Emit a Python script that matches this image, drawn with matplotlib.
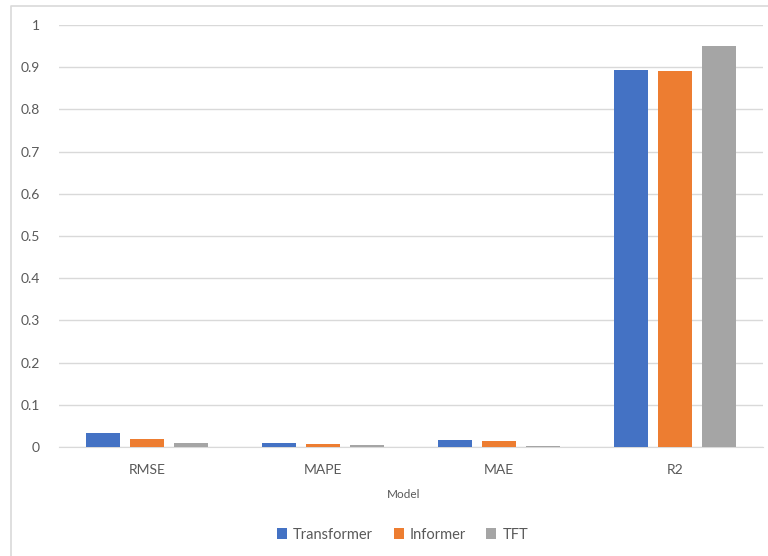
import numpy as np
import matplotlib.pyplot as plt
from matplotlib.lines import Line2D

metrics = ["RMSE", "MAPE", "MAE", "R2"]
models = ["Transformer", "Informer", "TFT"]
transformer = [0.032, 0.0095, 0.017, 0.893]
informer = [0.020, 0.008, 0.014, 0.891]
tft = [0.010, 0.005, 0.003, 0.950]
colors = ["#4472C4", "#ED7D31", "#A5A5A5"]
TEXT_COLOR = "#595959"
GRID_COLOR = "#D9D9D9"

plt.rcParams["font.family"] = ["Lato", "DejaVu Sans"]

fig = plt.figure(figsize=(7.68, 5.56), dpi=100)
ax = fig.add_axes([59 / 768, 109 / 556, 704 / 768, 422 / 556])

x = np.arange(len(metrics))
width = 0.19
step = 0.25
for i, (vals, name) in enumerate(zip([transformer, informer, tft], models)):
    ax.bar(x + (i - 1) * step, vals, width, color=colors[i], label=name, zorder=3)

ax.set_xlim(-0.5, 3.5)
ax.set_ylim(0, 1)
ax.set_yticks(np.arange(0, 1.01, 0.1))
ax.set_yticklabels(["0"] + ["%.1f" % v for v in np.arange(0.1, 0.95, 0.1)] + ["1"])
ax.set_xticks(x)
ax.set_xticklabels(metrics)
ax.grid(axis="y", color=GRID_COLOR, linewidth=1, zorder=0)
for s in ["top", "right", "left"]:
    ax.spines[s].set_visible(False)
ax.spines["bottom"].set_color(GRID_COLOR)
ax.tick_params(axis="both", length=0, labelsize=10, colors=TEXT_COLOR)
ax.tick_params(axis="y", pad=14)
ax.tick_params(axis="x", pad=12)
ax.set_xlabel("Model", fontsize=8.5, color=TEXT_COLOR, labelpad=12)
ax.xaxis.set_label_coords(0.49, -0.1)

ax.legend(loc="upper center", bbox_to_anchor=(0.488, -0.16), ncol=3, frameon=False,
          fontsize=10.5, labelcolor=TEXT_COLOR, handlelength=0.7, handleheight=0.7,
          handletextpad=0.4, columnspacing=1.4)

# partial outer frame (top and left edges only)
fig.lines.append(Line2D([11 / 768, 11 / 768, 1], [0, 550 / 556, 550 / 556],
                        transform=fig.transFigure, color=GRID_COLOR, linewidth=1.2))

fig.savefig("out.png", dpi=100)
